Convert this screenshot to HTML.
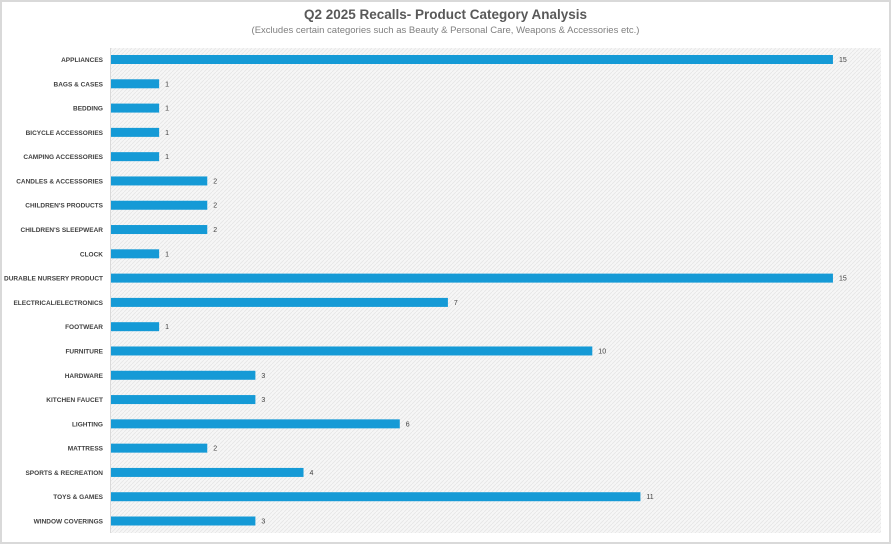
<!DOCTYPE html>
<html><head><style>
body{margin:0;width:891px;height:544px;background:#fff;font-family:"Liberation Sans",sans-serif;position:relative;overflow:hidden}
.frame{position:absolute;left:0;top:0;width:887px;height:540px;border:2px solid #d9d9d9}
.t{position:absolute;left:0;width:891px;text-align:center}
</style></head><body>
<div class="frame"></div>
<div class="t" style="top:7px;font-size:13.5px;font-weight:bold;color:#595959">Q2 2025 Recalls- Product Category Analysis</div>
<div class="t" style="top:25px;font-size:9.5px;color:#7f7f7f">(Excludes certain categories such as Beauty &amp; Personal Care, Weapons &amp; Accessories etc.)</div>
<svg width="891" height="544" style="position:absolute;left:0;top:0">
<defs><pattern id="p" width="4" height="4" patternUnits="userSpaceOnUse"><rect width="4" height="4" fill="#f6f6f6"/><path d="M0 4L4 0" stroke="#e6e6e6" stroke-width="0.8"/></pattern></defs>
<rect x="110" y="48" width="771" height="485" fill="url(#p)"/>
<line x1="110.5" y1="48" x2="110.5" y2="533" stroke="#d9d9d9"/>
<g id="g" font-size="6.5" font-weight="bold" fill="#404040"></g>
</svg>
<script>
var d=[["APPLIANCES",15],["BAGS & CASES",1],["BEDDING",1],["BICYCLE ACCESSORIES",1],["CAMPING ACCESSORIES",1],["CANDLES & ACCESSORIES",2],["CHILDREN'S PRODUCTS",2],["CHILDREN'S SLEEPWEAR",2],["CLOCK",1],["DURABLE NURSERY PRODUCT",15],["ELECTRICAL/ELECTRONICS",7],["FOOTWEAR",1],["FURNITURE",10],["HARDWARE",3],["KITCHEN FAUCET",3],["LIGHTING",6],["MATTRESS",2],["SPORTS & RECREATION",4],["TOYS & GAMES",11],["WINDOW COVERINGS",3]];
var s="";d.forEach(function(r,i){var y=59.5+i*24.29,w=r[1]*48.13;
s+='<text x="103" y="'+(y+2.5)+'" text-anchor="end">'+r[0].replace(/&/g,"&amp;")+'</text>';
s+='<rect x="111" y="'+(y-4.5)+'" width="'+w+'" height="9" fill="#159ad6"/>';
s+='<text x="'+(111+w+6)+'" y="'+(y+2.5)+'" font-size="7" font-weight="normal" fill="#404040">'+r[1]+'</text>';});
document.getElementById("g").innerHTML=s;
</script>
</body></html>
